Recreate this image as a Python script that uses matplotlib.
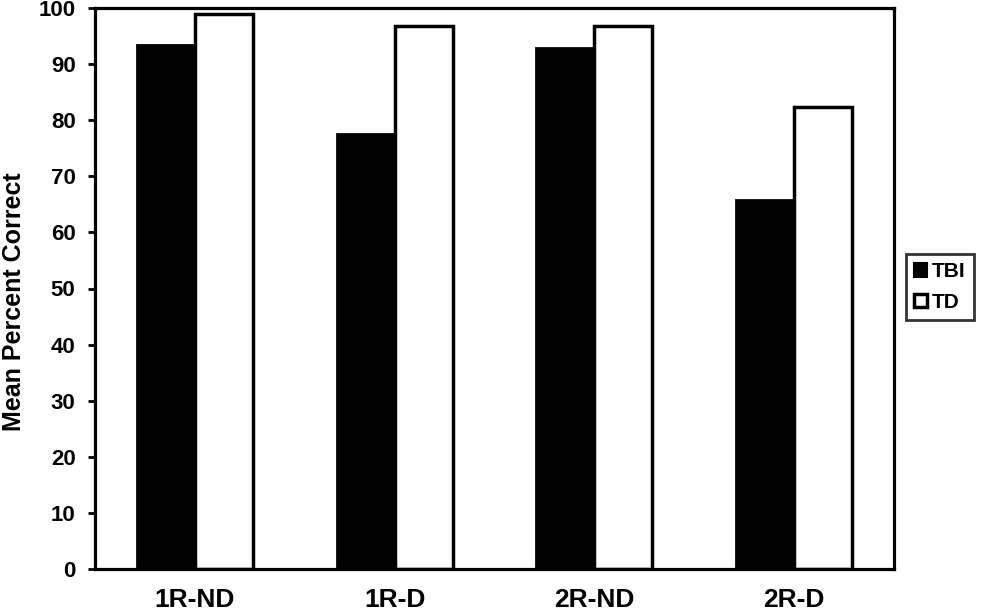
import matplotlib
matplotlib.use("Agg")
import matplotlib.pyplot as plt
import numpy as np
from matplotlib.patches import Patch

categories = ["1R-ND", "1R-D", "2R-ND", "2R-D"]
tbi = [93.4, 77.6, 92.9, 65.8]
td = [98.9, 96.8, 96.8, 82.3]
yticks = [0, 10, 20, 30, 40, 50, 60, 70, 80, 90, 100]

plt.rcParams['font.family'] = ['Liberation Sans', 'DejaVu Sans']
fig = plt.figure(figsize=(9.81, 6.14), dpi=100)
ax = fig.add_axes([95/981, 1-569/614, (894-95)/981, (569-8)/614])

x = np.arange(len(categories))
w = 0.29
ax.bar(x - w/2, tbi, w, color="black", edgecolor="black", linewidth=2, label="TBI")
ax.bar(x + w/2, td, w, color="white", edgecolor="black", linewidth=2.5, label="TD")

ax.set_xlim(-0.5, 3.5)
ax.set_ylim(0, 100)
ax.set_yticks(yticks)
ax.set_yticklabels([str(t) for t in yticks], fontsize=16, fontweight="bold")
ax.set_xticks(x)
ax.set_xticklabels(categories, fontsize=19, fontweight="bold")
ax.tick_params(axis="x", length=0, pad=14)
ax.tick_params(axis="y", length=5, width=2, direction="out", pad=9)
for s in ax.spines.values():
    s.set_linewidth(2.3)
ax.set_ylabel("Mean Percent Correct", fontsize=18, fontweight="bold")
ax.yaxis.set_label_coords(-0.0864, 0.476)

handles = [Patch(facecolor="black", edgecolor="black", linewidth=1.5),
           Patch(facecolor="white", edgecolor="black", linewidth=2.5)]
leg = fig.legend(handles, ["TBI", "TD"], loc="center left",
                 bbox_to_anchor=(906/981, 1-287/614), frameon=True,
                 fancybox=False, edgecolor="black",
                 prop={"weight": "bold", "size": 15},
                 handlelength=0.6, handleheight=0.6, handletextpad=0.25,
                 borderpad=0.4, labelspacing=0.55, borderaxespad=0)
leg.get_frame().set_linewidth(2)

fig.savefig("out.png", dpi=100)
